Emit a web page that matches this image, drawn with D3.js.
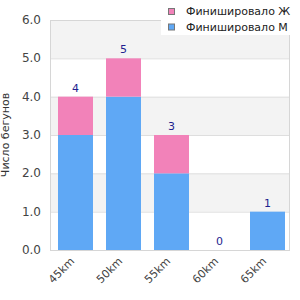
<!DOCTYPE html>
<html>
<head>
<meta charset="utf-8">
<script src="https://cdn.jsdelivr.net/npm/d3@7"></script>
<style>
  body { margin: 0; background: #fff; }
  svg { display: block; font-family: "DejaVu Sans", sans-serif; }
</style>
</head>
<body>
<div id="chart"></div>
<script>
// Data
const categories = ["45km", "50km", "55km", "60km", "65km"];
const finishedM = [3, 4, 2, 0, 1];
const finishedF = [1, 1, 1, 0, 0];
const totals = categories.map((c, i) => finishedM[i] + finishedF[i]);
const yTicks = [0, 1, 2, 3, 4, 5, 6];
const seriesNames = ["Финишировало Ж", "Финишировало М"];
const colors = { f: "#f282b9", m: "#5fa8f5" };

const W = 300, H = 300;
const plot = { left: 50, right: 290, top: 20, bottom: 250 };

const svg = d3.select("#chart").append("svg")
    .attr("width", W)
    .attr("height", H);

const x = d3.scaleBand()
    .domain(categories)
    .range([plot.left, plot.right]);

const y = d3.scaleLinear()
    .domain([0, 6])
    .range([plot.bottom, plot.top]);

// alternating background bands
svg.append("g").selectAll("rect")
    .data(yTicks.slice(0, -1))
    .join("rect")
    .attr("x", plot.left)
    .attr("width", plot.right - plot.left)
    .attr("y", d => y(d + 1))
    .attr("height", d => y(d) - y(d + 1))
    .attr("fill", d => d % 2 === 1 ? "#f3f3f3" : "#fff");

// gridlines
svg.append("g").selectAll("line")
    .data(yTicks)
    .join("line")
    .attr("x1", plot.left)
    .attr("x2", plot.right)
    .attr("y1", d => y(d) + 0.5)
    .attr("y2", d => y(d) + 0.5)
    .attr("stroke", "#dedede");

// plot frame
svg.append("rect")
    .attr("x", plot.left + 0.5)
    .attr("y", plot.top + 0.5)
    .attr("width", plot.right - plot.left - 1)
    .attr("height", plot.bottom - plot.top)
    .attr("fill", "none")
    .attr("stroke", "#d6d6d6");

// bars
const barOffset = 8, barWidth = 35;
const bars = svg.append("g");
bars.selectAll("rect.m")
    .data(categories)
    .join("rect")
    .attr("class", "m")
    .attr("x", d => x(d) + barOffset)
    .attr("width", barWidth)
    .attr("y", (d, i) => y(finishedM[i]))
    .attr("height", (d, i) => y(0) - y(finishedM[i]))
    .attr("fill", colors.m);

bars.selectAll("rect.f")
    .data(categories)
    .join("rect")
    .attr("class", "f")
    .attr("x", d => x(d) + barOffset)
    .attr("width", barWidth)
    .attr("y", (d, i) => y(finishedM[i] + finishedF[i]))
    .attr("height", (d, i) => y(finishedM[i]) - y(finishedM[i] + finishedF[i]))
    .attr("fill", colors.f);

// total labels
svg.append("g").selectAll("text")
    .data(categories)
    .join("text")
    .attr("x", d => x(d) + barOffset + barWidth / 2)
    .attr("y", (d, i) => y(totals[i]) - 5)
    .attr("text-anchor", "middle")
    .attr("font-size", 11)
    .attr("fill", "#1f1f8f")
    .text((d, i) => totals[i]);

// y axis labels
svg.append("g").selectAll("text")
    .data(yTicks)
    .join("text")
    .attr("x", 41)
    .attr("y", d => y(d) + 4)
    .attr("text-anchor", "end")
    .attr("font-size", 12)
    .attr("fill", "#444")
    .text(d => d.toFixed(1));

// y title
svg.append("text")
    .attr("transform", `translate(9,${(plot.top + plot.bottom) / 2}) rotate(-90)`)
    .attr("text-anchor", "middle")
    .attr("font-size", 11)
    .attr("fill", "#333")
    .text("Число бегунов");

// x labels
svg.append("g").selectAll("text")
    .data(categories)
    .join("text")
    .attr("transform", d => `translate(${x(d) + x.bandwidth() / 2 + 1},${plot.bottom + 12}) rotate(-45)`)
    .attr("text-anchor", "end")
    .attr("font-size", 11)
    .attr("fill", "#444")
    .text(d => d);

// legend
const legend = svg.append("g");
legend.append("rect")
    .attr("x", 161)
    .attr("y", 0)
    .attr("width", W - 161)
    .attr("height", 35)
    .attr("fill", "#fff");

const legendItems = legend.selectAll("g")
    .data(seriesNames)
    .join("g")
    .attr("transform", (d, i) => `translate(168,${8 + i * 15.5})`);

legendItems.append("rect")
    .attr("x", 0.5)
    .attr("y", 0.5)
    .attr("width", 6)
    .attr("height", 6)
    .attr("fill", (d, i) => i === 0 ? colors.f : colors.m)
    .attr("stroke", "#777");

legendItems.append("text")
    .attr("x", 18)
    .attr("y", 7)
    .attr("font-size", 11)
    .attr("fill", "#222")
    .text(d => d);
</script>
</body>
</html>
